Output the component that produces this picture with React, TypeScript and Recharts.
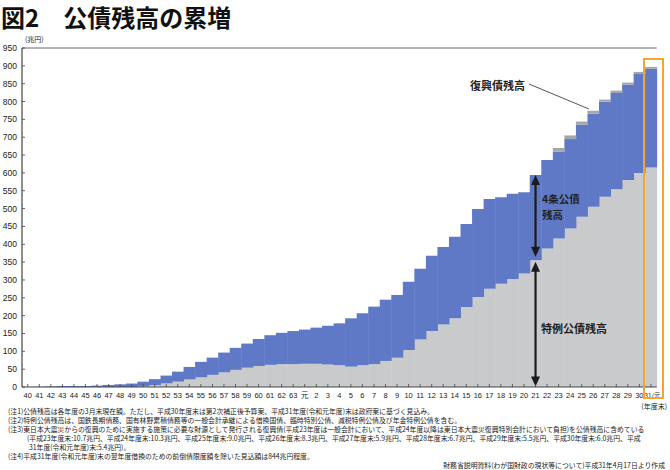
import React from 'react';
import { BarChart, Bar, XAxis, YAxis, ReferenceLine } from 'recharts';

const years = [
  '40', '41', '42', '43', '44', '45', '46', '47', '48', '49',
  '50', '51', '52', '53', '54', '55', '56', '57', '58', '59',
  '60', '61', '62', '63', '元', '2', '3', '4', '5', '6',
  '7', '8', '9', '10', '11', '12', '13', '14', '15', '16',
  '17', '18', '19', '20', '21', '22', '23', '24', '25', '26',
  '27', '28', '29', '30', '31/元',
];

// 特例公債残高 (兆円)
const tokurei = [
  0, 0, 0, 0, 0, 0, 0, 0, 0, 0,
  2, 5.5, 10, 15, 21, 27, 34, 41, 48, 54,
  59, 62, 64, 64, 65, 65, 63, 61, 57, 61,
  64, 73, 82, 104, 133, 157, 175, 193, 224, 252,
  275, 289, 303, 318, 355, 388, 416, 444, 477, 505,
  533, 554, 580, 600, 615,
];

// 4条公債残高 (兆円)
const kenchiku = [
  0.2, 0.9, 1.8, 2.5, 2.8, 2.8, 3.9, 5.8, 7.5, 9.7,
  13.0, 16.5, 22.0, 28.0, 35.3, 43.5, 48.3, 55.5, 61.7, 67.7,
  75.4, 83.1, 87.8, 92.8, 95.9, 101.3, 108.6, 117.4, 135.5, 145.6,
  161.2, 171.7, 176.0, 191.2, 198.7, 210.6, 217.4, 228.1, 232.7, 247.0,
  251.9, 242.7, 238.5, 227.9, 239.0, 248.3, 243.2, 250.7, 257.9, 260.8,
  266.5, 269.9, 267.7, 277.0, 276.6,
];

// 復興債残高 (兆円)
const fukko = [
  0, 0, 0, 0, 0, 0, 0, 0, 0, 0,
  0, 0, 0, 0, 0, 0, 0, 0, 0, 0,
  0, 0, 0, 0, 0, 0, 0, 0, 0, 0,
  0, 0, 0, 0, 0, 0, 0, 0, 0, 0,
  0, 0, 0, 0, 0, 0, 10.7, 10.3, 9.0, 8.3,
  5.9, 6.7, 5.5, 6.0, 5.4,
];

const yTicks = [0, 50, 100, 150, 200, 250, 300, 350, 400, 450, 500, 550, 600, 650, 700, 750, 800, 850, 900, 950];

const arrowYear = '21';
const arrowTotal = 594;
const arrowSplit = 355;

const notes = [
  '(注1)公債残高は各年度の3月末現在額。ただし、平成30年度末は第2次補正後予算案、平成31年度(令和元年度)末は政府案に基づく見込み。',
  '(注2)特例公債残高は、国鉄長期債務、国有林野累積債務等の一般会計承継による借換国債、臨時特別公債、減税特例公債及び年金特例公債を含む。',
  '(注3)東日本大震災からの復興のために実施する施策に必要な財源として発行される復興債(平成23年度は一般会計において、平成24年度以降は東日本大震災復興特別会計において負担)を公債残高に含めている',
  '(平成23年度末:10.7兆円、平成24年度末:10.3兆円、平成25年度末:9.0兆円、平成26年度末:8.3兆円、平成27年度末:5.9兆円、平成28年度末:6.7兆円、平成29年度末:5.5兆円、平成30年度末:6.0兆円、平成',
  '31年度(令和元年度)末:5.4兆円)。',
  '(注4)平成31年度(令和元年度)末の翌年度借換のための前倒債限度額を除いた見込額は844兆円程度。',
];
const source = '財務省説明資料(わが国財政の現状等について)平成31年4月17日より作成';

const data = years.map((y, i) => ({
  year: y,
  tokurei: tokurei[i],
  kenchiku: kenchiku[i],
  fukko: fukko[i],
}));

const JP = '"Noto Sans CJK JP", "Noto Sans", sans-serif';
const NUM = '"Liberation Sans", Arial, sans-serif';

const XTick = (props: any) => {
  const { x, y, payload } = props;
  const last = payload.value === '31/元';
  return (
    <g>
      <line x1={x} x2={x} y1={y} y2={y - 3} stroke="#444" strokeWidth={0.8} />
      <text
        x={last ? x + 1.5 : x}
        y={y + 11}
        textAnchor="middle"
        fontSize={last ? 6.3 : 7.5}
        fill="#222"
        fontFamily={last || payload.value === '元' ? JP : NUM}
      >
        {payload.value}
      </text>
    </g>
  );
};

const YTick = (props: any) => {
  const { x, y, payload } = props;
  return (
    <g>
      <line x1={x} x2={x + 3} y1={y} y2={y} stroke="#444" strokeWidth={0.8} />
      <text x={x - 5} y={y + 3} textAnchor="end" fontSize={8.5} fill="#222" fontFamily={NUM}>
        {payload.value}
      </text>
    </g>
  );
};

const makeArrow = (topInset: number, bottomInset: number) => (p: any) => {
  const x = p.x1;
  const top = Math.min(p.y1, p.y2) + topInset;
  const bot = Math.max(p.y1, p.y2) - bottomInset;
  const c = '#1b1b1b';
  return (
    <g>
      <line x1={x} x2={x} y1={top + 8} y2={bot - 8} stroke={c} strokeWidth={2.2} />
      <polygon points={`${x},${top} ${x - 4.5},${top + 10} ${x + 4.5},${top + 10}`} fill={c} />
      <polygon points={`${x},${bot} ${x - 4.5},${bot - 10} ${x + 4.5},${bot - 10}`} fill={c} />
    </g>
  );
};

export default function App() {
  return (
    <div style={{ position: 'absolute', left: 0, top: 0, width: 670, height: 470, background: '#fff', overflow: 'hidden', fontFamily: JP }}>
      <div style={{ position: 'absolute', left: 1, top: 2, fontSize: 24, fontWeight: 700, lineHeight: '30px', color: '#111', whiteSpace: 'nowrap' }}>
        図2　公債残高の累増
      </div>
      <div style={{ position: 'absolute', left: 25, top: 34, fontSize: 7, lineHeight: '10px', color: '#222' }}>(兆円)</div>

      <div style={{ position: 'absolute', left: 0, top: 0 }}>
        <BarChart
          width={670}
          height={410}
          data={data}
          margin={{ top: 48, right: 13.3, left: 0, bottom: 0 }}
          barCategoryGap={0}
        >
          <XAxis
            dataKey="year"
            interval={0}
            height={23}
            tickSize={0}
            tickMargin={0}
            tickLine={false}
            tick={<XTick />}
            axisLine={{ stroke: '#444', strokeWidth: 1.2 }}
          />
          <YAxis
            width={22}
            domain={[0, 950]}
            ticks={yTicks}
            interval={0}
            tickSize={0}
            tickMargin={0}
            tickLine={false}
            tick={<YTick />}
            axisLine={{ stroke: '#444', strokeWidth: 1.2 }}
          />
          <YAxis
            yAxisId="r"
            orientation="right"
            width={0}
            domain={[0, 950]}
            tick={false}
            tickLine={false}
            axisLine={{ stroke: '#555', strokeWidth: 1 }}
          />
          <Bar dataKey="tokurei" stackId="a" fill="#c9cacc" isAnimationActive={false} />
          <Bar dataKey="kenchiku" stackId="a" fill="#5f79c6" isAnimationActive={false} />
          <Bar dataKey="fukko" stackId="a" fill="#a3a7ab" isAnimationActive={false} />
          <ReferenceLine y={950} stroke="#666" strokeWidth={1} />
          <ReferenceLine
            segment={[{ x: arrowYear, y: arrowTotal }, { x: arrowYear, y: arrowSplit }]}
            shape={makeArrow(0, 3.5)}
          />
          <ReferenceLine
            segment={[{ x: arrowYear, y: arrowSplit }, { x: arrowYear, y: 0 }]}
            shape={makeArrow(1.5, 0.5)}
          />
        </BarChart>
      </div>

      <svg width={670} height={470} style={{ position: 'absolute', left: 0, top: 0, pointerEvents: 'none' }}>
        <line x1={529} y1={84} x2={589} y2={109} stroke="#555" strokeWidth={1} />
        <text x={470} y={90} fontSize={11} fontWeight={700} fill="#222" fontFamily={JP}>復興債残高</text>
        <text x={542} y={203} fontSize={10.5} fontWeight={700} fill="#222" fontFamily={JP}>4条公債</text>
        <text x={542} y={219} fontSize={10.5} fontWeight={700} fill="#222" fontFamily={JP}>残高</text>
        <text x={541} y={333} fontSize={11} fontWeight={700} fill="#222" fontFamily={JP}>特例公債残高</text>
      </svg>

      <div style={{ position: 'absolute', left: 643, top: 58, width: 21, height: 341, border: '2px solid #f4a531', boxSizing: 'border-box' }} />

      <div style={{ position: 'absolute', right: 3, top: 401, fontSize: 7, lineHeight: '10px', color: '#222' }}>(年度末)</div>

      <div style={{ position: 'absolute', left: 8, top: 406.5, fontSize: 6.85, lineHeight: '9.1px', color: '#222', whiteSpace: 'nowrap' }}>
        <div>{notes[0]}</div>
        <div>{notes[1]}</div>
        <div>{notes[2]}</div>
        <div style={{ paddingLeft: 19 }}>{notes[3]}</div>
        <div style={{ paddingLeft: 21 }}>{notes[4]}</div>
        <div>{notes[5]}</div>
      </div>
      <div style={{ position: 'absolute', right: 5, top: 461, fontSize: 6.85, lineHeight: '9px', color: '#222', whiteSpace: 'nowrap' }}>{source}</div>
    </div>
  );
}
